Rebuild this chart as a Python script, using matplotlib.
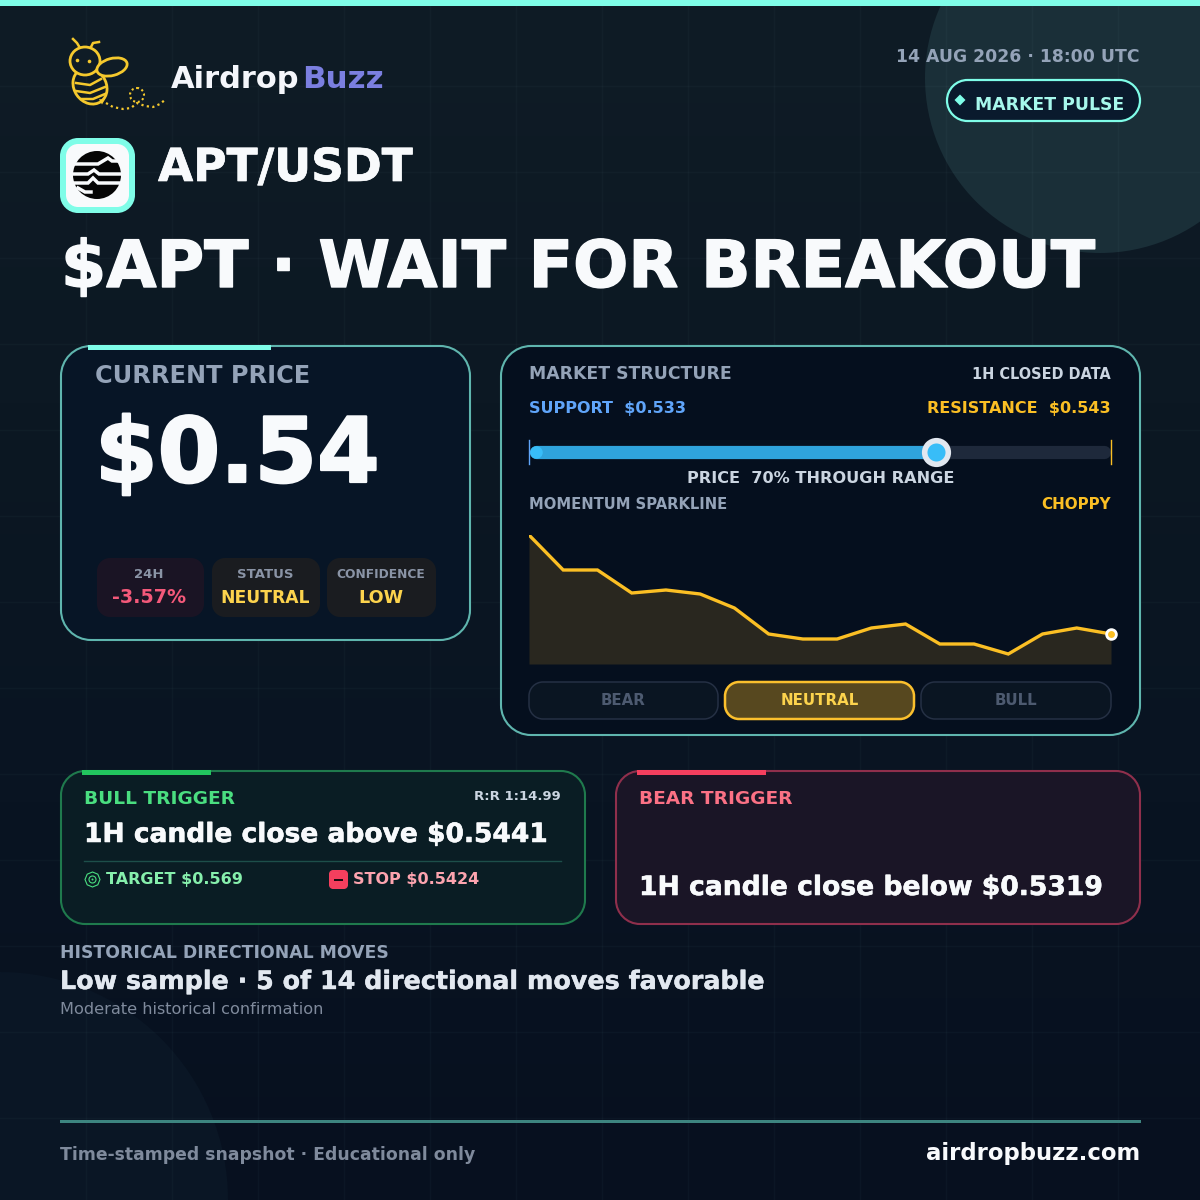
import numpy as np
import matplotlib
matplotlib.use("Agg")
import matplotlib.pyplot as plt
import matplotlib.patheffects as pe
from matplotlib.patches import PathPatch, Circle, Ellipse, Rectangle, RegularPolygon
from matplotlib.path import Path
from matplotlib.colors import LinearSegmentedColormap

# ----- DATA -----
pair = "APT/USDT"
headline = "$APT · WAIT FOR BREAKOUT"
timestamp = "14 AUG 2026 · 18:00 UTC"
price = "$0.54"
stat_labels = ["24H", "STATUS", "CONFIDENCE"]
stat_values = ["-3.57%", "NEUTRAL", "LOW"]
support = 0.533
resistance = 0.543
range_pct = 70
spark_values = [129, 94, 94, 71, 74, 70, 56, 30, 25, 25, 36, 40, 20, 20, 10, 30, 36, 30]
regimes = ["BEAR", "NEUTRAL", "BULL"]

# ----- COLOURS -----
TEAL = "#7ffde8"
AMBER = "#fbbf24"
GREY = "#94a3b8"
WHITE = "#f8fafc"

fig = plt.figure(figsize=(12, 12), dpi=100)
ax = fig.add_axes([0, 0, 1, 1])
ax.set_xlim(0, 1200)
ax.set_ylim(1200, 0)
ax.axis("off")

# ----- BACKGROUND -----
bg_map = LinearSegmentedColormap.from_list("bg", ["#0f1c26", "#0c1823", "#091422", "#07101f"])
gradient = np.linspace(0, 1, 256).reshape(-1, 1)
ax.imshow(gradient, cmap=bg_map, extent=(0, 1200, 1200, 0), aspect="auto", zorder=0)
ax.add_patch(Circle((1100, 78), 175, fc="#1a2f38", ec="none", zorder=0.5))
ax.add_patch(Circle((0, 1200), 228, fc="#0a1625", ec="none", zorder=0.5))
for g in range(86, 1200, 86):
    ax.plot([g, g], [0, 1200], color="#9fd8e0", alpha=0.03, lw=1, zorder=0.6)
    ax.plot([0, 1200], [g, g], color="#9fd8e0", alpha=0.03, lw=1, zorder=0.6)
ax.add_patch(Rectangle((0, 0), 1200, 6, fc=TEAL, ec="none", zorder=1))


def label(x, y, s, px, color, ha="left", weight="bold", heavy=0):
    # y is the baseline, px is the font size in pixels
    t = ax.text(x, y, s, fontsize=px * 0.72, color=color, ha=ha, va="baseline",
                fontweight=weight, family="DejaVu Sans", zorder=6)
    if heavy:
        t.set_path_effects([pe.withStroke(linewidth=heavy, foreground=color)])
    return t


def card(x0, y0, x1, y1, r, fc, ec, lw=1.5, z=2):
    # rounded box with true circular corners
    k = 0.5523 * r
    verts = [(x0 + r, y0), (x1 - r, y0),
             (x1 - r + k, y0), (x1, y0 + r - k), (x1, y0 + r), (x1, y1 - r),
             (x1, y1 - r + k), (x1 - r + k, y1), (x1 - r, y1), (x0 + r, y1),
             (x0 + r - k, y1), (x0, y1 - r + k), (x0, y1 - r), (x0, y0 + r),
             (x0, y0 + r - k), (x0 + r - k, y0), (x0 + r, y0), (x0 + r, y0)]
    codes = [Path.MOVETO, Path.LINETO,
             Path.CURVE4, Path.CURVE4, Path.CURVE4, Path.LINETO,
             Path.CURVE4, Path.CURVE4, Path.CURVE4, Path.LINETO,
             Path.CURVE4, Path.CURVE4, Path.CURVE4, Path.LINETO,
             Path.CURVE4, Path.CURVE4, Path.CURVE4, Path.CLOSEPOLY]
    p = PathPatch(Path(verts, codes), fc=fc, ec=ec, lw=lw, zorder=z)
    ax.add_patch(p)
    return p


# ----- LOGO: BEE -----
bee = "#f5c92d"
ax.add_patch(Ellipse((90, 86), 32, 38, angle=-35, fc="none", ec=bee, lw=2, zorder=4))
ax.add_patch(RegularPolygon((102, 101), 3, radius=3.5, fc=bee, ec="none", zorder=4))
ax.add_patch(Ellipse((85, 61), 30, 28, fc="#0f1c26", ec=bee, lw=2, zorder=5))
ax.add_patch(Ellipse((112, 67), 31, 17, angle=-15, fc="#0f1c26", ec=bee, lw=2, zorder=5))
ax.plot([76, 90, 101], [83, 85, 79], color=bee, lw=1.8, zorder=4)
ax.plot([76, 90, 105], [91, 93, 87], color=bee, lw=1.8, zorder=4)
ax.plot([82, 93, 105], [99, 99, 94], color=bee, lw=1.8, zorder=4)
ax.plot([80, 77, 73], [48, 43, 39], color=bee, lw=1.8, zorder=4)
ax.plot([90, 93, 99], [49, 43, 42], color=bee, lw=1.8, zorder=4)
ax.plot([77, 89], [60, 61], ls="none", marker="o", ms=2.6, mew=0, color=bee, zorder=6)
ax.plot([106, 113, 123, 131, 137, 145, 153, 160, 166],
        [103, 107, 109, 108, 103, 106, 107, 104, 99], color=bee, lw=1.6, ls=(0, (1, 1.5)), zorder=4)
ax.add_patch(Circle((137, 95), 7, fc="none", ec=bee, lw=1.5, ls=(0, (1, 1.3)), zorder=4))
label(171, 88, "Airdrop", 30.5, "#f4f6fb")
label(302, 88, "Buzz", 31, "#7b7fe0")

# ----- HEADER RIGHT -----
label(1140, 62, timestamp, 17.2, GREY, ha="right")
card(947, 80, 1140, 121, 20.5, "#0a1a2d", TEAL, lw=1.6, z=3)
ax.add_patch(RegularPolygon((960, 100), 4, radius=5.5, fc=TEAL, ec="none", zorder=5))
label(975, 110, "MARKET PULSE", 17.2, "#a7f8ec")

# ----- ASSET ICON -----
card(60, 138, 135, 213, 18, TEAL, "none", lw=0, z=3)
card(66, 144, 129, 207, 12, WHITE, "none", lw=0, z=3)
ax.add_patch(Circle((97, 175), 24, fc="#050505", ec="none", zorder=4))
icon_cuts = [([72, 98, 103, 108, 112, 123], [164, 164, 161, 158, 161, 161]),
             ([72, 88, 94, 99, 123], [174, 174, 170, 174, 174]),
             ([72, 88, 93, 98, 123], [183, 183, 178, 183, 183]),
             ([78, 85, 91], [188, 192, 192])]
for cut_x, cut_y in icon_cuts:
    ax.plot(cut_x, cut_y, color=WHITE, lw=2.5, solid_joinstyle="miter", zorder=5)
label(158, 181, pair, 45.5, WHITE, heavy=0.5)
label(61, 287, headline, 65, WHITE, heavy=1)

# ----- CURRENT PRICE CARD -----
card(61, 346, 470, 640, 30, "#071526", "#5fb5ae")
ax.add_patch(Rectangle((88, 345), 183, 4.5, fc=TEAL, ec="none", zorder=4))
label(95, 383, "CURRENT PRICE", 24, GREY)
label(95, 482, price, 90, WHITE, heavy=1.6)
stat_boxes = [(97, 204, "#1a1424", "#f4597a"), (212, 320, "#1a1c20", "#fcd34d"), (327, 436, "#1a1c20", "#fcd34d")]
for (x0, x1, fc, col), name, val, ls, vs, cx in zip(stat_boxes, stat_labels, stat_values,
                                                    [13.2, 13.2, 12.3], [19, 17.1, 17.6], [149, 265.5, 381]):
    card(x0, 558, x1, 617, 13, fc, "none", lw=0, z=3)
    label(cx, 578, name, ls, "#8a94a6", ha="center")
    label(cx, 603, val, vs, col, ha="center")

# ----- MARKET STRUCTURE CARD -----
card(501, 346, 1140, 735, 30, "#050f1e", "#5fb5ae")
label(529, 379, "MARKET STRUCTURE", 17.3, GREY)
label(1111, 379, "1H CLOSED DATA", 14.5, "#cbd5e1", ha="right")
label(529, 413, f"SUPPORT  ${support:.3f}", 16, "#60a5fa")
label(1111, 413, f"RESISTANCE  ${resistance:.3f}", 16, AMBER, ha="right")

# range bar sits in its own axes, running from support to resistance
range_ax = fig.add_axes([529 / 1200, 1 - 464 / 1200, 582 / 1200, 24 / 1200], zorder=5)
range_ax.set_xlim(support, resistance)
range_ax.set_ylim(0, 1)
range_ax.axis("off")
mark = support + (resistance - support) * range_pct / 100
inset = 0.00012
range_ax.plot([support + inset, resistance - inset], [0.5, 0.5], color="#1e293b", lw=9.5, solid_capstyle="round")
range_ax.plot([support + inset, mark], [0.5, 0.5], color="#2fa3dc", lw=9.5, solid_capstyle="round")
range_ax.plot([support + inset], [0.5], marker="o", ms=9, color="#38bdf8", clip_on=False, mew=0, ls="none")
range_ax.plot([mark], [0.5], marker="o", ms=17, mfc="#38bdf8", mec="#e2e8f0", mew=4, clip_on=False, ls="none", zorder=6)
range_ax.axvline(support, color="#60a5fa", lw=1, clip_on=False, zorder=7)
range_ax.axvline(resistance, color=AMBER, lw=1, clip_on=False, zorder=7)
label(821, 483, f"PRICE  {range_pct}% THROUGH RANGE", 16.1, "#cbd5e1", ha="center")

label(529, 509, "MOMENTUM SPARKLINE", 14.7, GREY)
label(1111, 509, "CHOPPY", 15.1, AMBER, ha="right")

spark_ax = fig.add_axes([529 / 1200, 1 - 664 / 1200, 582 / 1200, 129 / 1200], zorder=4)
xs = np.arange(len(spark_values))
spark_ax.set_xlim(0, len(spark_values) - 1)
spark_ax.set_ylim(0, 129)
spark_ax.axis("off")
spark_ax.fill_between(xs, spark_values, 0, color="#29271f", lw=0)
spark_ax.plot(xs, spark_values, color=AMBER, lw=2.4, solid_joinstyle="miter")
spark_ax.plot(xs[-1], spark_values[-1], marker="o", ms=7, mfc=AMBER, mec="white", mew=2, clip_on=False, zorder=5)

regime_boxes = [(529, 718), (725, 914), (921, 1111)]
for (x0, x1), name in zip(regime_boxes, regimes):
    active = name == "NEUTRAL"
    card(x0, 682, x1, 719, 14, "#57481f" if active else "#0a1522",
         "#fbc02d" if active else "#253044", lw=1.8 if active else 1.1, z=3)
    label((x0 + x1) / 2, 705, name, 15, "#fcd34d" if active else "#4d5a70", ha="center")

# ----- TRIGGER CARDS -----
card(61, 771, 585, 924, 24, "#0a1d24", "#1f7a4d")
ax.add_patch(Rectangle((82, 770), 129, 4.5, fc="#22c55e", ec="none", zorder=4))
label(84, 804, "BULL TRIGGER", 18.5, "#4ade80")
label(561, 800, "R:R 1:14.99", 13.2, "#cbd5e1", ha="right")
label(84, 842, "1H candle close above $0.5441", 26.5, WHITE, heavy=0.4)
ax.plot([84, 561], [860.5, 860.5], color="#1d4f4a", lw=1, zorder=4)
ax.add_patch(RegularPolygon((92.5, 879.5), 8, radius=7.5, fc="none", ec="#4ade80", lw=0.8, zorder=5))
ax.add_patch(Circle((92.5, 879.5), 3.5, fc="none", ec="#4ade80", lw=0.8, zorder=5))
ax.add_patch(Circle((92.5, 879.5), 1, fc="#4ade80", ec="none", zorder=5))
label(106, 884, "TARGET $0.569", 16, "#86efac")
card(329, 870, 348, 889, 4, "#f43f5e", "none", lw=0, z=5)
ax.add_patch(Rectangle((334, 878.5), 9, 2.5, fc="#1a0a10", ec="none", zorder=6))
label(353, 884, "STOP $0.5424", 16, "#fda4af")

card(616, 771, 1140, 924, 24, "#1a1526", "#8f2f4c")
ax.add_patch(Rectangle((637, 770), 129, 4.5, fc="#f43f5e", ec="none", zorder=4))
label(639, 804, "BEAR TRIGGER", 18.5, "#fb7185")
label(639, 895, "1H candle close below $0.5319", 26.6, WHITE, heavy=0.4)

# ----- HISTORY AND FOOTER -----
label(60, 958, "HISTORICAL DIRECTIONAL MOVES", 17.3, GREY)
label(60, 989, "Low sample · 5 of 14 directional moves favorable", 25.4, "#e2e8f0", heavy=0.3)
label(60, 1014, "Moderate historical confirmation", 16.1, "#7f8a9c", weight="normal")

ax.add_patch(Rectangle((60, 1120), 1081, 3, fc="#3d8580", ec="none", zorder=4))
label(60, 1160, "Time-stamped snapshot · Educational only", 17.2, "#7f8a9c")
label(1140, 1160, "airdropbuzz.com", 22.7, WHITE, ha="right")

plt.savefig("out.png", dpi=100)
